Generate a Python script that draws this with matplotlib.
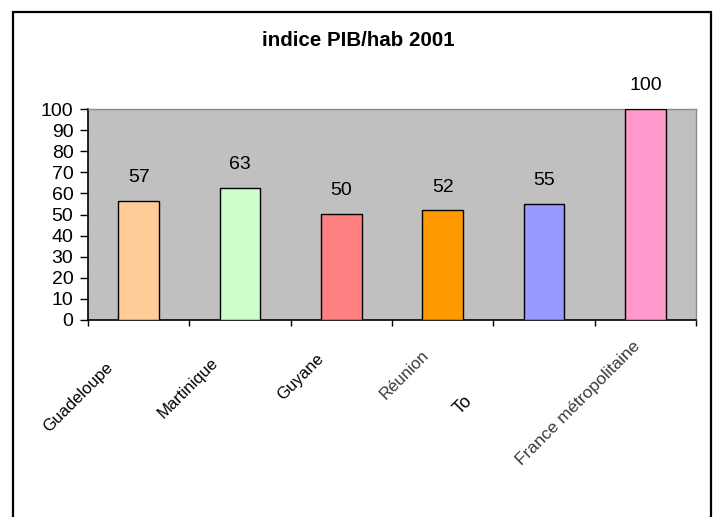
import matplotlib
matplotlib.use("Agg")
import matplotlib.pyplot as plt
from matplotlib.patches import Rectangle
from matplotlib import transforms
import numpy as np

plt.rcParams['font.family'] = ['Liberation Sans', 'DejaVu Sans']

categories = ["Guadeloupe", "Martinique", "Guyane", "Réunion", "To", "France métropolitaine"]
values = [56.6, 62.7, 50.4, 52.0, 55.0, 100.0]
colors = ["#FFCC99", "#CCFFCC", "#FF8080", "#FF9900", "#9999FF", "#FF99CC"]
label_colors = ["black", "black", "black", "#3a3a3a", "black", "#3a3a3a"]
title = "indice PIB/hab 2001"
yticks = list(range(0, 101, 10))

fig = plt.figure(figsize=(7.16, 5.17), dpi=100)
W, H = 716, 517
ax = fig.add_axes([88 / W, 1 - 320 / H, (696 - 88) / W, (320 - 109) / H])
ax.set_facecolor("#C0C0C0")

x = np.arange(len(categories))
ax.bar(x, values, width=0.4, color=colors, edgecolor="black", linewidth=1.0, zorder=3)

for xi, v in zip(x, values):
    ax.annotate(f"{v:.0f}", (xi, v), xytext=(0, 10.5), textcoords="offset points",
                ha="center", va="bottom", fontsize=14)

ax.set_xlim(-0.5, len(categories) - 0.5)
ax.set_ylim(0, 100)
ax.set_yticks(yticks)
ax.tick_params(axis="y", direction="out", length=5.5, width=1, pad=5, labelsize=14)
ax.set_xticks(np.arange(-0.5, len(categories), 1.0))
ax.set_xticklabels([])
ax.tick_params(axis="x", direction="out", length=4.5, width=1)

for s in ["top", "right"]:
    ax.spines[s].set_color("#8a8a8a")
    ax.spines[s].set_linewidth(1)
for s in ["left", "bottom"]:
    ax.spines[s].set_color("black")
    ax.spines[s].set_linewidth(1.2)

# rotated category labels
for i, (lab, c) in enumerate(zip(categories, label_colors)):
    if lab == "To":
        tr = transforms.offset_copy(ax.transData, fig=fig, x=-82, y=-98, units="dots")
        ax.text(i, 0, lab, transform=tr, rotation=45, rotation_mode="anchor",
                ha="left", va="bottom", fontsize=13, color=c, clip_on=False)
    else:
        dx = -28 + 4 * i
        dy = -(45 - 4.2 * i)
        tr = transforms.offset_copy(ax.transData, fig=fig, x=dx, y=dy, units="dots")
        ax.text(i, 0, lab, transform=tr, rotation=45, rotation_mode="anchor",
                ha="right", va="center", fontsize=12.5 if len(lab) > 12 else 12,
                color=c, clip_on=False)

fig.text(0.5, 1 - 40 / H, title, ha="center", va="center", fontsize=14.8, fontweight="bold")

# outer chart border
fig.patches.append(Rectangle((13 / W, -0.02), (711 - 13) / W, 1.02 - 12 / H,
                             transform=fig.transFigure, fill=False,
                             edgecolor="black", linewidth=1.6))

fig.savefig("out.png", dpi=100)
